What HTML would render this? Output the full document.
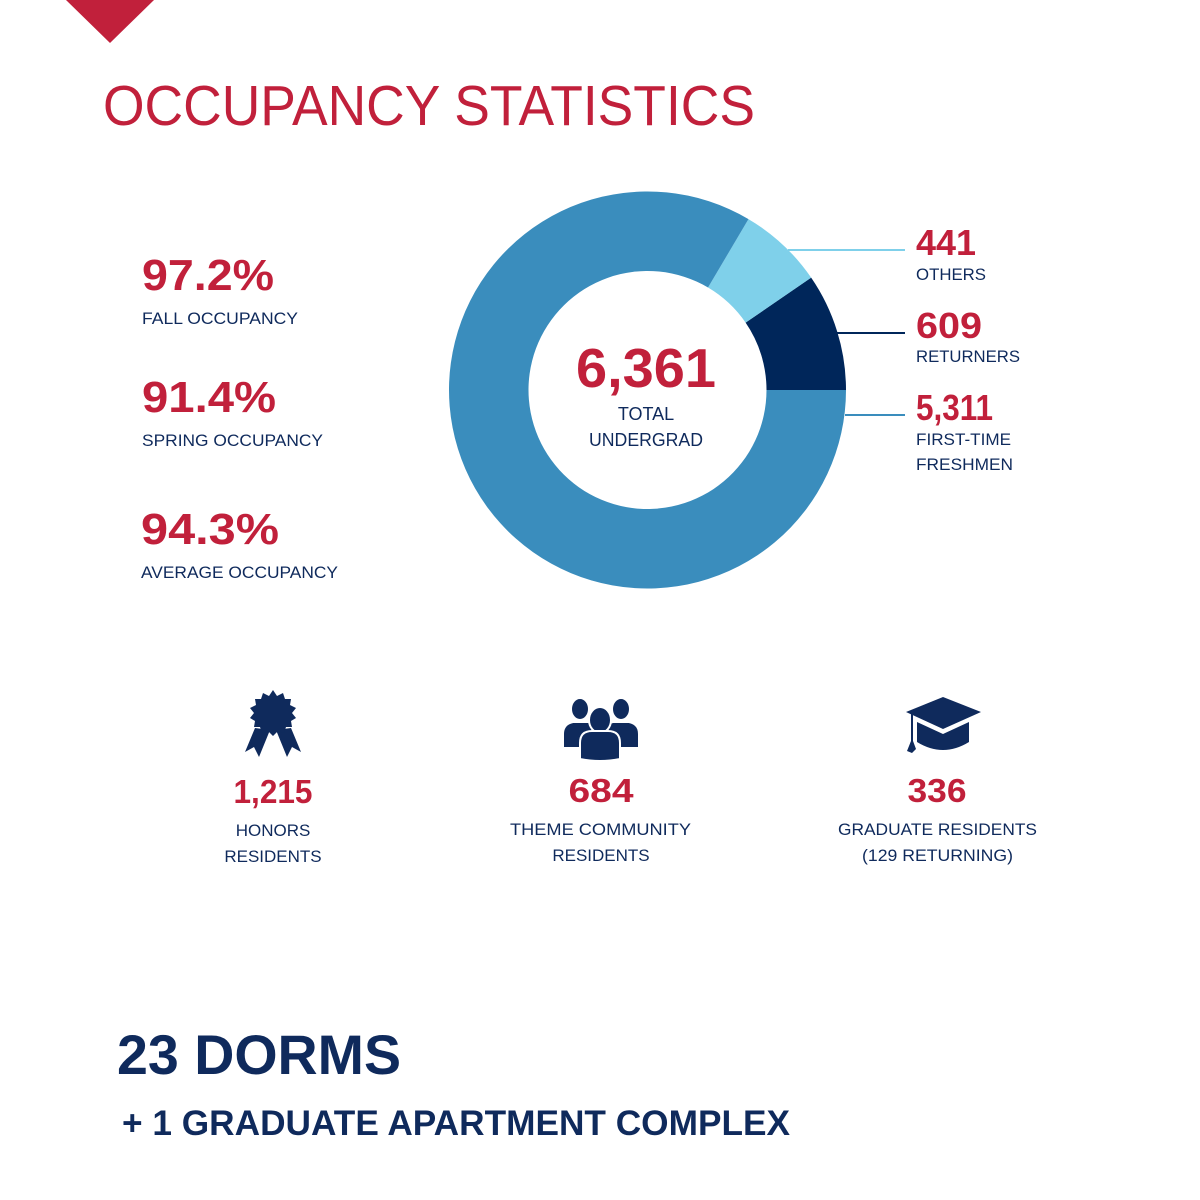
<!DOCTYPE html>
<html><head><meta charset="utf-8"><style>
html,body{margin:0;padding:0;background:#fff;}
svg{display:block;}
text{font-family:"Liberation Sans",sans-serif;}
.red{fill:#c1203b;font-weight:bold;}
.nav{fill:#0f2a5c;}
</style></head><body>
<svg width="1200" height="1200" viewBox="0 0 1200 1200">
<polygon points="66,0 154,0 110,43" fill="#c1203b"/>
<text x="103" y="125" font-size="57" fill="#c1203b" textLength="652" lengthAdjust="spacingAndGlyphs">OCCUPANCY STATISTICS</text>

<g>
<text class="red" x="142" y="290" font-size="44" textLength="132" lengthAdjust="spacingAndGlyphs">97.2%</text>
<text class="nav" x="142" y="324" font-size="17" textLength="156" lengthAdjust="spacingAndGlyphs">FALL OCCUPANCY</text>
<text class="red" x="142" y="412" font-size="44" textLength="134" lengthAdjust="spacingAndGlyphs">91.4%</text>
<text class="nav" x="142" y="446" font-size="17" textLength="181" lengthAdjust="spacingAndGlyphs">SPRING OCCUPANCY</text>
<text class="red" x="141" y="544" font-size="44" textLength="138" lengthAdjust="spacingAndGlyphs">94.3%</text>
<text class="nav" x="141" y="578" font-size="17" textLength="197" lengthAdjust="spacingAndGlyphs">AVERAGE OCCUPANCY</text>
</g>

<g id="donut"></g>
<text class="red" x="576" y="387" font-size="55" textLength="140" lengthAdjust="spacingAndGlyphs">6,361</text>
<text class="nav" x="646" y="420" font-size="18" text-anchor="middle">TOTAL</text>
<text class="nav" x="589" y="446" font-size="18" textLength="114" lengthAdjust="spacingAndGlyphs">UNDERGRAD</text>

<line x1="788" y1="250" x2="905" y2="250" stroke="#7fd0ea" stroke-width="2"/>
<line x1="836" y1="333" x2="905" y2="333" stroke="#00265a" stroke-width="2"/>
<line x1="845" y1="415" x2="905" y2="415" stroke="#3a8dbd" stroke-width="2"/>

<text class="red" x="916" y="255" font-size="36" textLength="60" lengthAdjust="spacingAndGlyphs">441</text>
<text class="nav" x="916" y="280" font-size="17" textLength="70" lengthAdjust="spacingAndGlyphs">OTHERS</text>
<text class="red" x="916" y="338" font-size="36" textLength="66" lengthAdjust="spacingAndGlyphs">609</text>
<text class="nav" x="916" y="362" font-size="17" textLength="104" lengthAdjust="spacingAndGlyphs">RETURNERS</text>
<text class="red" x="916" y="420" font-size="36" textLength="77" lengthAdjust="spacingAndGlyphs">5,311</text>
<text class="nav" x="916" y="445" font-size="17" textLength="95" lengthAdjust="spacingAndGlyphs">FIRST-TIME</text>
<text class="nav" x="916" y="470" font-size="17" textLength="97" lengthAdjust="spacingAndGlyphs">FRESHMEN</text>

<g fill="#0f2a5c">
<polygon points="255,728 245,752 254,747 259,757 270,730"/>
<polygon points="291,728 301,752 292,747 287,757 276,730"/>
<polygon points="273,690 277,696 283,693 285,699 291,699 290,705 296,708 292,713 296,718 291,721 292,727 286,727 284,733 278,731 273,736 268,731 262,733 260,727 254,727 255,721 250,718 254,713 250,708 256,705 255,699 261,699 263,693 269,696"/>
</g>
<g fill="#0f2a5c" stroke="#fff" stroke-width="2">
<ellipse cx="580" cy="709" rx="9" ry="11"/>
<ellipse cx="621" cy="709" rx="9" ry="11"/>
<path d="M563,748 v-14 q0,-10 10,-12 h16 q10,2 10,12 v14 z"/>
<path d="M603,748 v-14 q0,-10 10,-12 h16 q10,2 10,12 v14 z"/>
<ellipse cx="600" cy="720" rx="11" ry="13"/>
<path d="M580,759 v-16 q0,-12 12,-12 h16 q12,0 12,12 v16 q-20,4 -40,0 z"/>
</g>
<g fill="#0f2a5c">
<polygon points="943,697 981,712 943,729 906,712"/>
<path d="M917,722 l26,12 l26,-12 v20 q-26,16 -52,0 z"/>
<path d="M911,713 l2,0 l0,28 l3,8 l-4,4 l-5,-2 l4,-10 z"/>
</g>

<text class="red" x="273" y="803" font-size="33" text-anchor="middle" textLength="79" lengthAdjust="spacingAndGlyphs">1,215</text>
<text class="nav" x="273" y="836" font-size="17" text-anchor="middle">HONORS</text>
<text class="nav" x="273" y="862" font-size="17" text-anchor="middle">RESIDENTS</text>
<text class="red" x="601" y="802" font-size="33" text-anchor="middle" textLength="65" lengthAdjust="spacingAndGlyphs">684</text>
<text class="nav" x="510" y="835" font-size="17" textLength="181" lengthAdjust="spacingAndGlyphs">THEME COMMUNITY</text>
<text class="nav" x="601" y="861" font-size="17" text-anchor="middle">RESIDENTS</text>
<text class="red" x="937" y="802" font-size="33" text-anchor="middle" textLength="59" lengthAdjust="spacingAndGlyphs">336</text>
<text class="nav" x="838" y="835" font-size="17" textLength="199" lengthAdjust="spacingAndGlyphs">GRADUATE RESIDENTS</text>
<text class="nav" x="862" y="861" font-size="17" textLength="151" lengthAdjust="spacingAndGlyphs">(129 RETURNING)</text>

<text x="117" y="1074" font-size="56" font-weight="bold" fill="#0f2a5c" textLength="284" lengthAdjust="spacingAndGlyphs">23 DORMS</text>
<text x="122" y="1135" font-size="35" font-weight="bold" fill="#0f2a5c" textLength="668" lengthAdjust="spacingAndGlyphs">+ 1 GRADUATE APARTMENT COMPLEX</text>
</svg>
<script>
const categories = ["Returners", "Others", "First-time freshmen"];
const values = [609, 441, 5311];
const colors = ["#00265a", "#7fd0ea", "#3a8dbd"];
(function(){
  const g = document.getElementById('donut');
  const cx = 647.5, cy = 390, R = 198.5, r = 119;
  const total = values.reduce((a,b)=>a+b,0);
  let a0 = 0;
  function pt(rad, a){ return [cx + rad*Math.cos(a), cy - rad*Math.sin(a)]; }
  values.forEach((v,i)=>{
    const a1 = a0 + v/total*2*Math.PI;
    const large = (a1-a0) > Math.PI ? 1 : 0;
    const p1 = pt(R,a0), p2 = pt(R,a1), p3 = pt(r,a1), p4 = pt(r,a0);
    const d = `M${p1[0]},${p1[1]} A${R},${R} 0 ${large} 0 ${p2[0]},${p2[1]} L${p3[0]},${p3[1]} A${r},${r} 0 ${large} 1 ${p4[0]},${p4[1]} Z`;
    const path = document.createElementNS('http://www.w3.org/2000/svg','path');
    path.setAttribute('d', d);
    path.setAttribute('fill', colors[i]);
    
    
    g.appendChild(path);
    a0 = a1;
  });
})();
</script>
</body></html>
